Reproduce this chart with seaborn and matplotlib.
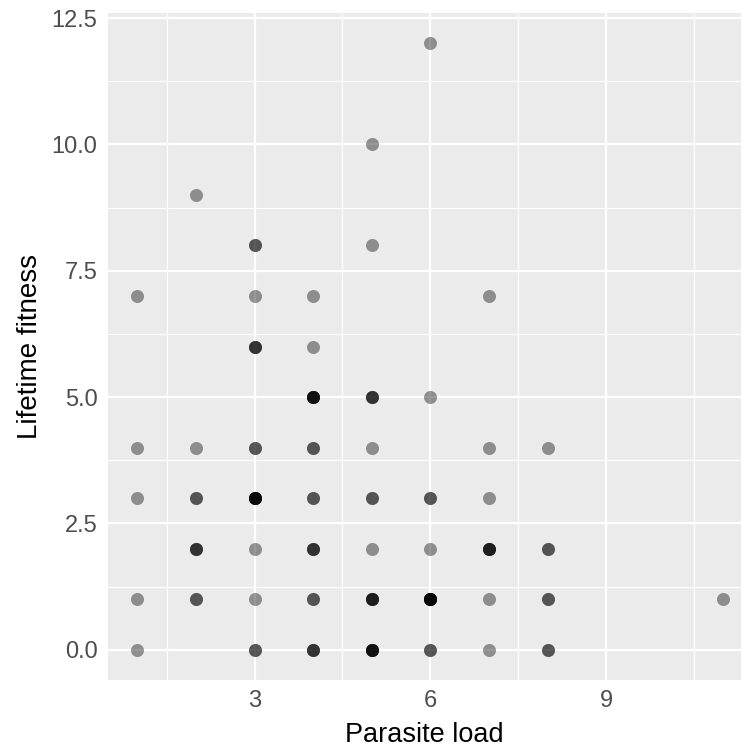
import numpy as np
import pandas as pd
import matplotlib
matplotlib.use("Agg")
import matplotlib.pyplot as plt
import seaborn as sns

# Parasite load / lifetime fitness observations; repeats = number of
# individuals sharing the same (load, fitness) pair
parasite_load = [1, 1, 1, 1, 1,
                 2, 2, 2, 2, 2,
                 3, 3, 3, 3, 3, 3, 3, 3,
                 4, 4, 4, 4, 4, 4, 4, 4,
                 5, 5, 5, 5, 5, 5, 5, 5,
                 6, 6, 6, 6, 6, 6,
                 7, 7, 7, 7, 7, 7,
                 8, 8, 8, 8,
                 11]
lifetime_fitness = [7, 4, 3, 1, 0,
                    9, 4, 3, 2, 1,
                    8, 7, 6, 4, 3, 2, 1, 0,
                    7, 6, 5, 4, 3, 2, 1, 0,
                    10, 8, 5, 4, 3, 2, 1, 0,
                    12, 5, 3, 2, 1, 0,
                    7, 4, 3, 2, 1, 0,
                    4, 2, 1, 0,
                    1]
repeats = [1, 1, 1, 1, 1,
           1, 1, 2, 3, 2,
           2, 1, 3, 2, 6, 1, 1, 2,
           1, 1, 5, 2, 2, 3, 2, 3,
           1, 1, 3, 1, 2, 1, 4, 5,
           1, 1, 2, 1, 7, 2,
           1, 1, 1, 4, 1, 1,
           1, 2, 2, 2,
           1]

df = pd.DataFrame({
    "load": np.repeat(parasite_load, repeats),
    "fitness": np.repeat(lifetime_fitness, repeats),
})

sns.set_theme(style="darkgrid")
plt.rcParams["font.family"] = ["Liberation Sans", "DejaVu Sans"]

W, H = 743, 751
fig = plt.figure(figsize=(W / 100, H / 100), dpi=100)
left, right, top, bottom = 108, 741, 13, 680
ax = fig.add_axes([left / W, 1 - bottom / H, (right - left) / W, (bottom - top) / H])

ax.set_facecolor("#ebebeb")
sns.scatterplot(data=df, x="load", y="fitness", color="black", alpha=0.4,
                s=88, linewidth=0, ax=ax, zorder=3)

ax.set_xlim(0.5, 11.3)
ax.set_ylim(-0.6, 12.6)
ax.set_xticks([3, 6, 9])
ax.set_xticks([1.5, 4.5, 7.5, 10.5], minor=True)
ax.set_yticks([0, 2.5, 5, 7.5, 10, 12.5])
ax.set_yticklabels(["0.0", "2.5", "5.0", "7.5", "10.0", "12.5"])
ax.set_yticks([1.25, 3.75, 6.25, 8.75, 11.25], minor=True)

ax.grid(which="major", color="white", linewidth=1.6)
ax.grid(which="minor", color="white", linewidth=0.8)
ax.set_axisbelow(True)
for s in ax.spines.values():
    s.set_visible(False)

ax.tick_params(axis="both", which="major", length=4.5, width=1.1, color="#333333",
               labelcolor="#4d4d4d", labelsize=17, direction="out")
ax.tick_params(axis="x", which="major", pad=3)
ax.tick_params(axis="y", which="major", pad=3)
ax.tick_params(axis="both", which="minor", length=0)

ax.set_xlabel("Parasite load", fontsize=19.5, color="black", labelpad=7)
ax.set_ylabel("Lifetime fitness", fontsize=20, color="black", labelpad=6)

fig.savefig("out.png", dpi=100, facecolor="white")
